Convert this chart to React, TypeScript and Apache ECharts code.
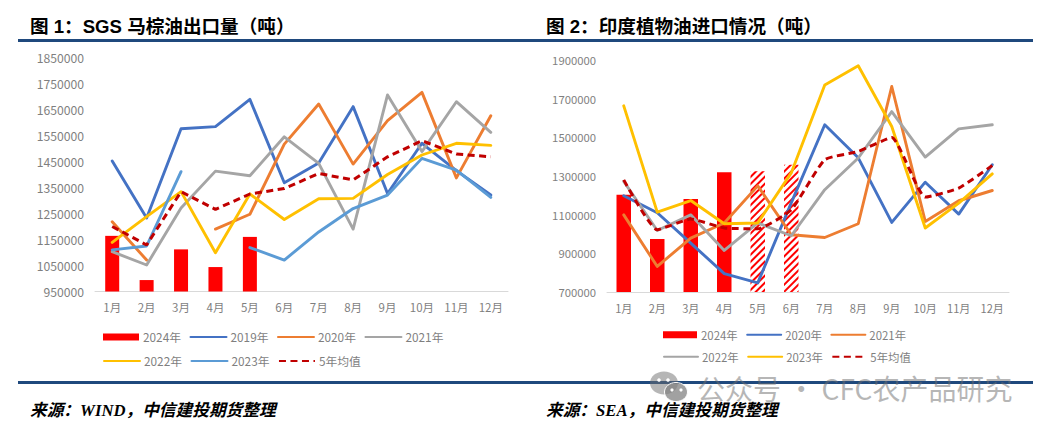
import React, { useEffect, useRef } from "react";
import * as echarts from "echarts";

const months = ["1月", "2月", "3月", "4月", "5月", "6月", "7月", "8月", "9月", "10月", "11月", "12月"];

// Chart 1: SGS Malaysian palm oil exports
const ticks1 = [950000, 1050000, 1150000, 1250000, 1350000, 1450000, 1550000, 1650000, 1750000, 1850000];
const sgs2024 = [1164000, 994000, 1112000, 1044000, 1160000, null, null, null, null, null, null, null];
const sgs2019 = [1452000, 1233000, 1576000, 1584000, 1689000, 1368000, 1444000, 1661000, 1327000, 1520000, 1415000, 1321000];
const sgs2020 = [1218000, 1071000, null, 1190000, 1247000, 1517000, 1671000, 1440000, 1607000, 1716000, 1387000, 1626000];
const sgs2021 = [1103000, 1052000, 1271000, 1413000, 1395000, 1545000, 1443000, 1190000, 1706000, 1488000, 1680000, 1562000];
const sgs2022 = [1139000, 1238000, 1334000, 1099000, 1325000, 1227000, 1307000, 1308000, 1400000, 1475000, 1520000, 1512000];
const sgs2023 = [1110000, 1125000, 1411000, null, 1119000, 1071000, 1179000, 1269000, 1321000, 1462000, 1417000, 1312000];
const sgsAvg = [1200000, 1129000, 1334000, 1266000, 1325000, 1346000, 1404000, 1379000, 1468000, 1530000, 1479000, 1468000];

// Chart 2: India vegetable oil imports
const ticks2 = [700000, 900000, 1100000, 1300000, 1500000, 1700000, 1900000];
const ind2024 = [1203000, 974000, 1181000, 1320000, 1325000, 1358000, null, null, null, null, null, null];
const ind2020 = [1198000, 1110000, 953000, 795000, 747000, 1161000, 1565000, 1394000, 1060000, 1268000, 1103000, 1358000];
const ind2021 = [1099000, 832000, 979000, 1057000, 1249000, 996000, 982000, 1053000, 1763000, 1065000, 1172000, 1225000];
const ind2022 = [1272000, 1018000, 1099000, 915000, 1057000, 991000, 1229000, 1393000, 1633000, 1398000, 1544000, 1565000];
const ind2023 = [1663000, 1113000, 1173000, 1053000, 1057000, 1316000, 1771000, 1870000, 1556000, 1031000, 1160000, 1311000];
const indAvg = [1280000, 1022000, 1077000, 1031000, 1027000, 1125000, 1384000, 1427000, 1499000, 1191000, 1237000, 1354000];
const estimatedFrom = 4; // 5月 and 6月 of 2024 are hatched (forecast)

const C = { blue: "#4472c4", orange: "#ed7d31", gray: "#a5a5a5", yellow: "#ffc000", sky: "#5b9bd5", dark: "#c00000", red: "#ff0000", rule: "#1f497d", text: "#7f7f7f" };
const CJK = '"Noto Sans CJK SC", sans-serif';
const HEAD = '"Liberation Sans", "Noto Sans CJK SC", sans-serif';
const SRC = '"Liberation Serif", "Noto Sans CJK SC", serif';

const line = (name: string, data: (number | null)[], color: string, z = 3) => ({
  name, type: "line", data, symbol: "none", z,
  lineStyle: { color, width: 2.9, cap: "round", join: "round" },
  itemStyle: { color },
});
const dashed = (name: string, data: (number | null)[], smooth: number) => ({
  name, type: "line", data, symbol: "none", z: 4, smooth,
  lineStyle: { color: C.dark, width: 3, type: [7, 4.5], cap: "butt" },
  itemStyle: { color: C.dark },
});

function base(opts: any) {
  const { gridLeft, gridTop, gridW, gridH, ticks, font, yFont, title, titleX, source, sourceX, ruleFrom, ruleTo, extra = [], legendLeft, legendTops, legendRows, swatch, gap, series } = opts;
  return {
    animation: false,
    backgroundColor: "#fff",
    grid: { left: gridLeft, top: gridTop, width: gridW, height: gridH },
    xAxis: {
      type: "category", data: months,
      axisLine: { lineStyle: { color: "#d9d9d9", width: 1 } }, axisTick: { show: false },
      axisLabel: { color: C.text, fontSize: font + 0.3, fontFamily: CJK, margin: 10, interval: 0 },
    },
    yAxis: {
      type: "value", min: ticks[0], max: ticks[ticks.length - 1],
      axisLine: { show: false }, axisTick: { show: false }, splitLine: { show: false },
      axisLabel: { color: C.text, fontSize: yFont, fontFamily: CJK, margin: 11, customValues: ticks, formatter: (v: number) => String(v) },
    },
    legend: legendRows.map((row: string[], i: number) => ({
      // the swatch of a line series carries a marker that the reference lacks: hide it, keep the line
      data: row.map((name) => name === "2024年" ? { name, icon: "rect" } : { name, itemStyle: { opacity: 0 } }),
      left: legendLeft, top: legendTops[i], padding: 0, orient: "horizontal",
      itemWidth: swatch, itemHeight: 7, itemGap: gap, selectedMode: false,
      textStyle: { color: C.text, fontSize: font + 0.6, fontFamily: CJK, padding: [0, 0, 0, -1] },
    })),
    graphic: [
      { type: "rect", x: ruleFrom, y: 39, shape: { width: ruleTo - ruleFrom, height: 3 }, style: { fill: C.rule } },
      { type: "rect", x: ruleFrom, y: 381, shape: { width: ruleTo - ruleFrom, height: 3 }, style: { fill: C.rule } },
      { type: "text", x: titleX, y: 26, style: { text: title, fill: "#000", font: `bold 18.6px ${HEAD}`, verticalAlign: "middle" } },
      { type: "text", x: sourceX, y: 410.5, style: { text: source, fill: "#000", font: `italic bold 16.7px ${SRC}`, lineHeight: 17, verticalAlign: "middle" } },
      ...extra,
    ],
    series,
  };
}

const wm = "rgba(110,110,110,0.5)";
const watermark = [
  { type: "ellipse", z: 10, shape: { cx: 141, cy: 383, rx: 14, ry: 11.5 }, style: { fill: wm } },
  { type: "ellipse", z: 11, shape: { cx: 153, cy: 392, rx: 11.5, ry: 9.5 }, style: { fill: "rgba(130,130,130,0.75)", stroke: "#fff", lineWidth: 1 } },
  { type: "circle", z: 12, shape: { cx: 136, cy: 380, r: 1.8 }, style: { fill: "#fff" } },
  { type: "circle", z: 12, shape: { cx: 145, cy: 380, r: 1.8 }, style: { fill: "#fff" } },
  { type: "circle", z: 12, shape: { cx: 149, cy: 390, r: 1.6 }, style: { fill: "#fff" } },
  { type: "circle", z: 12, shape: { cx: 158, cy: 390, r: 1.6 }, style: { fill: "#fff" } },
  { type: "text", z: 10, x: 174, y: 387.5, style: { text: "公众号 · CFC农产品研究", fill: wm, font: `28px ${CJK}`, lineHeight: 28, verticalAlign: "middle" } },
];

const option1 = base({
  gridLeft: 95, gridTop: 57.5, gridW: 413, gridH: 234, ticks: ticks1, font: 11.2, yFont: 12.2,
  title: "图 1：SGS 马棕油出口量（吨）", titleX: 30, source: "来源：WIND，中信建投期货整理", sourceX: 30,
  ruleFrom: 18, ruleTo: 523, legendLeft: 103, legendTops: [331, 355], swatch: 36, gap: 8.5,
  legendRows: [["2024年", "2019年", "2020年", "2021年"], ["2022年", "2023年", "5年均值"]],
  series: [
    { name: "2024年", type: "bar", data: sgs2024, barWidth: 14, z: 2, itemStyle: { color: C.red } },
    line("2019年", sgs2019, C.blue), line("2020年", sgs2020, C.orange), line("2021年", sgs2021, C.gray),
    line("2022年", sgs2022, C.yellow), line("2023年", sgs2023, C.sky), dashed("5年均值", sgsAvg, 0),
  ],
});

const option2 = base({
  gridLeft: 84, gridTop: 60, gridW: 402, gridH: 232, ticks: ticks2, font: 10.8, yFont: 11.3,
  title: "图 2：印度植物油进口情况（吨）", titleX: 23, source: "来源：SEA，中信建投期货整理", sourceX: 23,
  ruleFrom: 0, ruleTo: 510, legendLeft: 140, legendTops: [329, 351], swatch: 34, gap: 8.5,
  extra: watermark,
  legendRows: [["2024年", "2020年", "2021年"], ["2022年", "2023年", "5年均值"]],
  series: [
    {
      name: "2024年", type: "bar", barWidth: 14.5, z: 2, itemStyle: { color: C.red },
      data: ind2024.map((v, i) => i < estimatedFrom ? v : {
        value: v,
        itemStyle: { color: "#fff", decal: { symbol: "rect", color: C.red, backgroundColor: "#fff", dashArrayX: [1, 0], dashArrayY: [2, 2.5], symbolSize: 1, rotation: -Math.PI / 4 } },
      }),
    },
    line("2020年", ind2020, C.blue), line("2021年", ind2021, C.orange), line("2022年", ind2022, C.gray),
    line("2023年", ind2023, C.yellow), dashed("5年均值", indAvg, 0.15),
  ],
});

export default function App() {
  const a = useRef<HTMLDivElement>(null);
  const b = useRef<HTMLDivElement>(null);
  useEffect(() => {
    const c1 = echarts.init(a.current!, undefined, { renderer: "svg" });
    const c2 = echarts.init(b.current!, undefined, { renderer: "svg" });
    c1.setOption(option1 as any);
    c2.setOption(option2 as any);
    return () => { c1.dispose(); c2.dispose(); };
  }, []);
  return (
    <div style={{ position: "absolute", left: 0, top: 0, width: 1046, height: 431, background: "#fff", overflow: "hidden" }}>
      <div ref={a} style={{ position: "absolute", left: 0, top: 0, width: 523, height: 431 }} />
      <div ref={b} style={{ position: "absolute", left: 523, top: 0, width: 523, height: 431 }} />
    </div>
  );
}
